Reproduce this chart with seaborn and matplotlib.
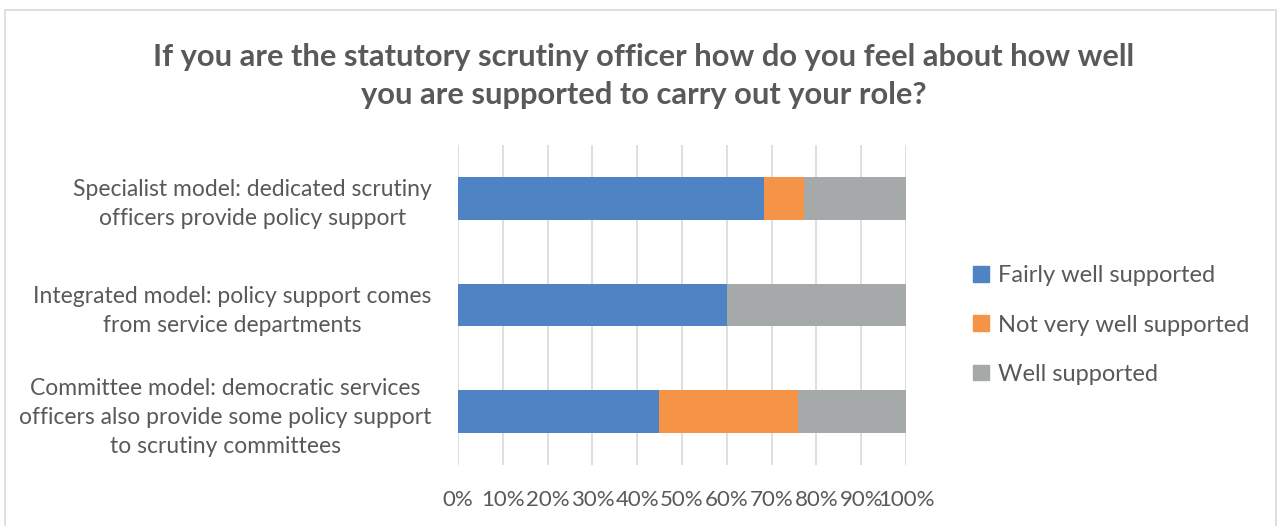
import matplotlib
matplotlib.use("Agg")
import matplotlib.pyplot as plt
import matplotlib.patches as mpatches
import seaborn as sns
import pandas as pd
import numpy as np

# Support models and share of responses (%)
models = [
    "Specialist model: dedicated scrutiny\nofficers provide policy support",
    "Integrated model: policy support comes\nfrom service departments",
    "Committee model: democratic services\nofficers also provide some policy support\nto scrutiny committees",
]
fairly_well = [68.2, 60.0, 44.8]
not_very_well = [9.1, 0.0, 31.0]
well = [22.7, 40.0, 24.1]

series_names = ["Fairly well supported", "Not very well supported", "Well supported"]
colors = ["#4F84C4", "#F59346", "#A6A9A9"]
tick_values = list(range(0, 101, 10))
tick_labels = [f"{v}%" for v in tick_values]

title = ("If you are the statutory scrutiny officer how do you feel about how well\n"
         "you are supported to carry out your role?")

sns.set_theme(style="white")
plt.rcParams["font.family"] = ["Lato", "DejaVu Sans"]
text_color = "#595959"

df = pd.DataFrame({
    "model": models,
    "fairly": fairly_well,
    "notvery": not_very_well,
    "well": well,
})
df["cum_notvery"] = df["fairly"] + df["notvery"]
df["cum_well"] = df["cum_notvery"] + df["well"]

fig = plt.figure(figsize=(12.8, 5.26), dpi=100)
ax = fig.add_axes([458 / 1280, 1 - 465 / 526, 448 / 1280, 320 / 526])

# stacked bars: draw cumulative totals back to front
for col, color in zip(["cum_well", "cum_notvery", "fairly"], colors[::-1]):
    sns.barplot(data=df, x=col, y="model", orient="h", color=color,
                width=0.4, ax=ax, saturation=1, linewidth=0, zorder=3)

ax.set_xlim(0, 100)
ax.set_ylim(2.5, -0.5)
ax.set_xticks(tick_values)
ax.set_xticklabels(tick_labels, fontsize=16, color=text_color)
ax.tick_params(axis="x", length=0, pad=18)
ax.tick_params(axis="y", length=0, pad=19)
for lbl in ax.get_yticklabels():
    lbl.set_fontsize(16.5)
    lbl.set_color(text_color)
    lbl.set_multialignment("center")
    lbl.set_linespacing(1.45)
ax.set_xlabel("")
ax.set_ylabel("")
ax.grid(axis="x", color="#D9D9D9", linewidth=1.2, zorder=0)
ax.grid(axis="y", visible=False)
ax.set_axisbelow(True)
for s in ax.spines.values():
    s.set_visible(False)

fig.text(0.503, 1 - 76 / 526, title, ha="center", va="center",
         fontsize=22.2, fontweight="bold", color=text_color, linespacing=1.45,
         family=["Lato", "DejaVu Sans"])

handles = [mpatches.Patch(color=c, label=n) for c, n in zip(colors, series_names)]
fig.legend(handles=handles, loc="center left", bbox_to_anchor=(952 / 1280, 1 - 325 / 526),
           frameon=False, fontsize=17, labelcolor=text_color,
           handlelength=0.65, handleheight=0.65, handletextpad=0.4, labelspacing=1.2)

# chart frame
fig.patches.append(mpatches.Rectangle((5 / 1280, -0.02), 1271 / 1280, 1 - 10 / 526 + 0.02,
                                      transform=fig.transFigure, fill=False,
                                      edgecolor="#D9D9D9", linewidth=1.2))

fig.savefig("out.png", dpi=100)
